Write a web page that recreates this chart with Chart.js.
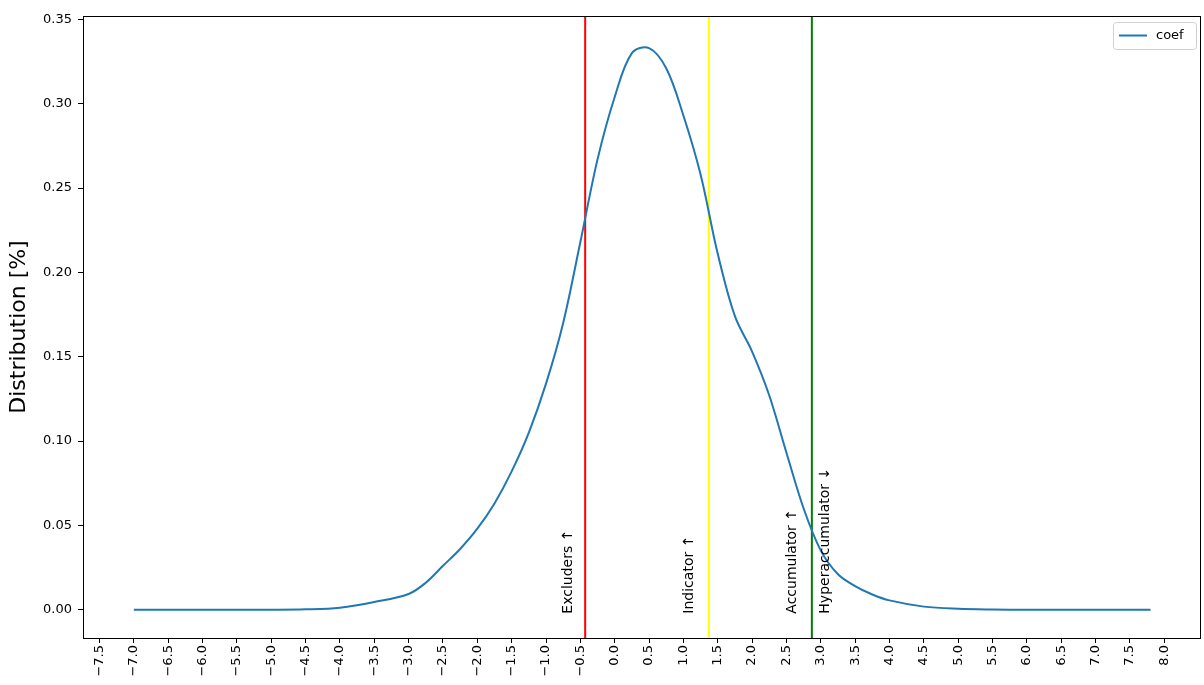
<!DOCTYPE html>
<html>
<head>
<meta charset="utf-8">
<script src="https://cdn.jsdelivr.net/npm/chart.js@4.4.0/dist/chart.umd.min.js"></script>
<style>
  html, body { margin: 0; padding: 0; background: #fff; }
  #wrap { width: 1204px; height: 685px; }
</style>
</head>
<body>
<div id="wrap"><canvas id="kdeChart" width="1204" height="685"></canvas></div>
<script>
// KDE of the coefficients
const coefX = [-7.0, -6.0, -5.0, -4.5, -4.0, -3.5, -3.0, -2.75, -2.5, -2.25, -2.0, -1.75, -1.5, -1.25, -1.0, -0.75, -0.5, -0.25, 0.0, 0.25, 0.5, 0.75, 1.0, 1.25, 1.5, 1.75, 2.0, 2.25, 2.5, 2.75, 3.0, 3.25, 3.5, 3.75, 4.0, 4.5, 5.0, 5.5, 6.0, 7.0, 7.8];
const coefY = [0, 0, 0, 0.0002, 0.0012, 0.0045, 0.0093, 0.016, 0.026, 0.036, 0.048, 0.063, 0.082, 0.105, 0.134, 0.170, 0.218, 0.267, 0.304, 0.330, 0.333, 0.321, 0.293, 0.258, 0.211, 0.174, 0.153, 0.127, 0.093, 0.060, 0.035, 0.021, 0.014, 0.009, 0.0055, 0.0018, 0.0005, 0.0001, 0, 0, 0];

// thresholds (vertical lines) and their labels
const thresholdX = [-0.43, 1.37, 2.87];
const thresholdColors = ['#ff0000', '#ffff00', '#008000'];
const noteText = ['Excluders \u2191', 'Indicator \u2191', 'Accumulator \u2191', 'Hyperaccumulator \u2193'];
const noteX = [-0.78, 0.98, 2.49, 2.97];

const xTicks = [];
for (let v = -7.5; v <= 8.0001; v += 0.5) xTicks.push(Math.round(v * 10) / 10);
const yTicks = [0, 0.05, 0.10, 0.15, 0.20, 0.25, 0.30, 0.35];

const xMin = -7.74, xMax = 8.52;
const yMin = -0.0168, yMax = 0.352;

const FONT = 'DejaVu Sans';

function fmtMinus(s) { return s.replace('-', '\u2212'); }

const datasets = [{
  label: 'coef',
  data: coefX.map((x, i) => ({ x: x, y: coefY[i] })),
  borderColor: '#1f77b4',
  backgroundColor: '#1f77b4',
  borderWidth: 2,
  pointRadius: 0,
  showLine: true,
  tension: 0.35
}];
thresholdX.forEach((x, i) => {
  datasets.push({
    label: 'thr' + i,
    data: [{ x: x, y: yMin }, { x: x, y: yMax }],
    borderColor: thresholdColors[i],
    borderWidth: 2,
    pointRadius: 0,
    showLine: true
  });
});

const framePlugin = {
  id: 'frame',
  afterDatasetsDraw(chart) {
    const { ctx, chartArea: a, scales } = chart;
    ctx.save();
    // notes
    ctx.fillStyle = '#000';
    ctx.font = '14px "' + FONT + '"';
    ctx.textAlign = 'left';
    ctx.textBaseline = 'top';
    noteText.forEach((t, i) => {
      const px = scales.x.getPixelForValue(noteX[i]);
      const py = scales.y.getPixelForValue(0) + 4;
      ctx.save();
      ctx.translate(px, py);
      ctx.rotate(-Math.PI / 2);
      ctx.fillText(t, 0, 0);
      ctx.restore();
    });
    // axes frame
    ctx.strokeStyle = '#000';
    ctx.lineWidth = 1;
    ctx.strokeRect(Math.round(a.left) + 0.5, Math.round(a.top) + 0.5, Math.round(a.right - a.left), Math.round(a.bottom - a.top));
    // legend
    const lw = 83, lh = 27;
    const lx = a.right - lw - 4, ly = a.top + 6;
    ctx.fillStyle = 'rgba(255,255,255,0.8)';
    ctx.strokeStyle = '#d0d0d0';
    ctx.lineWidth = 1;
    ctx.beginPath();
    if (ctx.roundRect) ctx.roundRect(lx + 0.5, ly + 0.5, lw, lh, 3); else ctx.rect(lx + 0.5, ly + 0.5, lw, lh);
    ctx.fill();
    ctx.stroke();
    ctx.strokeStyle = '#1f77b4';
    ctx.lineWidth = 2;
    ctx.beginPath();
    ctx.moveTo(lx + 6, ly + lh / 2);
    ctx.lineTo(lx + 34, ly + lh / 2);
    ctx.stroke();
    ctx.fillStyle = '#000';
    ctx.font = '13px "' + FONT + '"';
    ctx.textBaseline = 'middle';
    ctx.fillText('coef', lx + 43, ly + lh / 2);
    ctx.restore();
  }
};

new Chart(document.getElementById('kdeChart').getContext('2d'), {
  type: 'scatter',
  data: { datasets: datasets },
  plugins: [framePlugin],
  options: {
    responsive: false,
    animation: false,
    layout: { padding: { top: 16, right: 4, left: 0, bottom: 0 } },
    plugins: { legend: { display: false }, tooltip: { enabled: false } },
    scales: {
      x: {
        type: 'linear',
        min: xMin,
        max: xMax,
        afterBuildTicks: s => { s.ticks = xTicks.map(v => ({ value: v })); },
        afterFit: s => { s.height = 47; },
        border: { display: false },
        grid: { drawOnChartArea: false, drawTicks: true, tickLength: 5, color: '#000' },
        ticks: {
          minRotation: 90,
          maxRotation: 90,
          padding: 2,
          color: '#000',
          font: { family: FONT, size: 13 },
          callback: v => fmtMinus(Number(v).toFixed(1))
        }
      },
      y: {
        type: 'linear',
        min: yMin,
        max: yMax,
        afterBuildTicks: s => { s.ticks = yTicks.map(v => ({ value: v })); },
        afterFit: s => { s.width = 83; },
        border: { display: false },
        grid: { drawOnChartArea: false, drawTicks: true, tickLength: 5, color: '#000' },
        title: {
          display: true,
          text: 'Distribution [%]',
          color: '#000',
          font: { family: FONT, size: 22 },
          padding: { top: 6, bottom: 0 }
        },
        ticks: {
          padding: 6,
          color: '#000',
          font: { family: FONT, size: 13 },
          callback: v => Number(v).toFixed(2)
        }
      }
    }
  }
});
</script>
</body>
</html>
